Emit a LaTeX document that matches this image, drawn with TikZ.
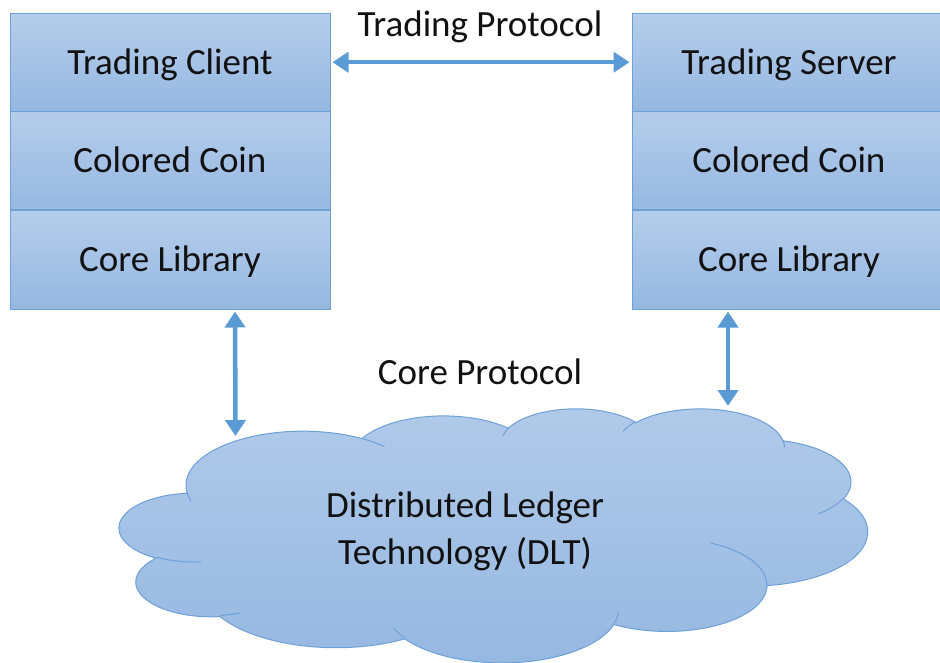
\documentclass[tikz,border=0pt]{standalone}
\usepackage{fontspec}
\setmainfont{Carlito}
\usetikzlibrary{arrows.meta}
\definecolor{boxtop}{HTML}{B5CDEB}
\definecolor{boxbot}{HTML}{95B8E1}
\definecolor{bordc}{HTML}{6EA0D8}
\definecolor{arrc}{HTML}{5B9BD5}
\definecolor{cloudtop}{HTML}{B0CAE9}
\definecolor{cloudbot}{HTML}{95B8E1}
\definecolor{txtc}{HTML}{111111}
\newcommand\cloudarc[4]{arc[start angle={vt(#1,#2,#3)}, delta angle={mod(vt(#1,#2,(#3)+(#4))-vt(#1,#2,#3)+720,360)}, x radius=#1, y radius=#2]}
\begin{document}
\begin{tikzpicture}[x=0.75pt,y=-0.75pt,
  declare function={vt(\w,\h,\a)=atan2(\w*sin(\a),\h*cos(\a));},
  bigfont/.style={font=\fontsize{27.75pt}{35pt}\selectfont, text=txtc},
  rowbox/.style={draw=bordc, line width=0.75pt, top color=boxtop, bottom color=boxbot,
    minimum height=73.75pt, text height=18pt, text depth=0pt, inner sep=0pt, bigfont},
  leftrow/.style={rowbox, minimum width=240pt},
  rightrow/.style={rowbox, minimum width=235.5pt},
  lbl/.style={bigfont, text height=18pt, text depth=0pt, inner sep=0pt},
  dblarrow/.style={draw=arrc, line width=3.4pt,
    {Triangle[length=12pt,width=15pt]}-{Triangle[length=12pt,width=15pt]}},
  cloudfill/.style={draw=bordc, line width=0.75pt, top color=cloudtop, bottom color=cloudbot},
  cloudline/.style={draw=bordc, line width=0.75pt}
]
\useasboundingbox (0,0) rectangle (940,662);
\clip (0,0) rectangle (940,662);

% left stack
\node[leftrow] (tc) at (170,62.2) {Trading Client};
\node[leftrow] (cl) at (170,160.5) {Colored Coin};
\node[leftrow,anchor=north] (cb) at (cl.south) {Core Library};
% right stack
\node[rightrow] (ts) at (789,62.2) {Trading Server};
\node[rightrow] (sl) at (789,160.5) {Colored Coin};
\node[rightrow,anchor=north] (sb) at (sl.south) {Core Library};

% labels
\node[lbl] (tp) at (480,24) {Trading Protocol};
\node[lbl] (cp) at (480,372.5) {Core Protocol};

% cloud
\begin{scope}[shift={(119.5,408)}, xscale=748/432, yscale=254/432]
\path[cloudfill] (39.00,143.70)
  \cloudarc{67.53}{91.90}{-190.4875}{123.7805}
  \cloudarc{53.33}{72.67}{-144.1024}{89.9452}
  \cloudarc{43.65}{59.45}{-145.8079}{99.7230}
  \cloudarc{48.57}{65.95}{-130.9861}{117.2417}
  \cloudarc{53.33}{72.73}{-78.7089}{109.0269}
  \cloudarc{67.75}{92.20}{-46.2673}{130.2690}
  \cloudarc{57.85}{78.67}{0.6250}{114.0333}
  \cloudarc{67.52}{92.15}{22.4516}{115.1726}
  \cloudarc{77.20}{105.43}{66.2426}{75.7110}
  \cloudarc{43.60}{59.18}{-274.9421}{146.7356}
  \cloudarc{43.45}{59.45}{-246.8285}{152.5189}
  -- cycle;
\path[cloudline]
  (46.93,261.77) \cloudarc{43.45}{59.45}{86.742}{26.4295}
  (69.28,348.99) \cloudarc{43.60}{59.18}{73.6105}{11.4475}
  (164.78,390.90) \cloudarc{67.52}{92.15}{137.6242}{14.0811}
  (288.27,347.51) \cloudarc{67.52}{92.15}{6.4533}{15.9984}
  (341.29,229.54) \cloudarc{57.85}{78.67}{-70.2924}{70.9174}
  (417.98,153.54) \cloudarc{53.33}{72.73}{30.3180}{27.7515}
  (383.24,54.26) \cloudarc{48.57}{65.95}{-13.7443}{14.8589}
  (290.78,39.52) \cloudarc{48.57}{65.95}{-149.1815}{18.1954}
  (221.41,47.20) \cloudarc{43.65}{59.45}{-163.4943}{17.6864}
  (140.00,51.92) \cloudarc{67.53}{91.90}{-66.7070}{12.3194}
  (41.27,157.89) \cloudarc{67.53}{91.90}{157.6544}{11.8582};
\end{scope}
\node[bigfont, align=center, inner sep=0pt] (dlt) at (465,531) {Distributed Ledger\\Technology (DLT)};

\coordinate (dltL) at (235.5,436);
\coordinate (dltR) at (728,406);

% connectors
\draw[dblarrow, shorten <=1.5pt, shorten >=1.5pt] (tc.east) -- (ts.west);
\draw[dblarrow, shorten <=1.5pt] ([xshift=48.75pt]cb.south) -- (dltL);
\draw[dblarrow, shorten <=1.5pt] ([xshift=-45.75pt]sb.south) -- (dltR);
\end{tikzpicture}
\end{document}
